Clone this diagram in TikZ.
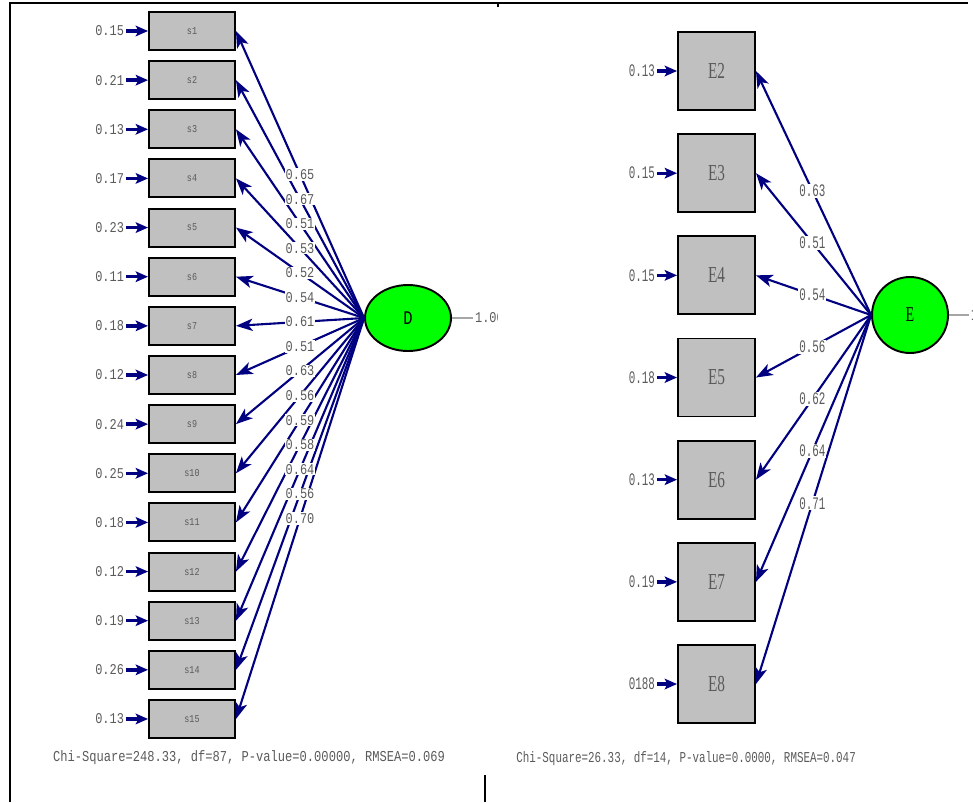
\documentclass[tikz,border=0pt]{standalone}
\usepackage{fontspec}
\usepackage{tikz}
\usetikzlibrary{arrows.meta,positioning,shapes.geometric,calc}
\usepackage{xcolor}
\setmainfont{Liberation Serif}
\newfontfamily\monoleft[FakeStretch=0.8]{Liberation Mono}
\newfontfamily\monoright[FakeStretch=0.62]{Liberation Mono}
\newfontfamily\monochi[FakeStretch=0.72]{Liberation Mono}
\newfontfamily\serifnarrow[FakeStretch=0.67]{Liberation Serif}
\definecolor{pathblue}{RGB}{0,0,128}
\definecolor{boxgray}{RGB}{192,192,192}
\definecolor{latgreen}{RGB}{0,255,0}
\definecolor{labgray}{RGB}{90,90,90}

\begin{document}
\begin{tikzpicture}[x=0.02cm, y=-0.02cm,
    obsS/.style={draw=black, line width=1.1pt, fill=boxgray, inner sep=0pt,
                 minimum width=1.72cm, minimum height=0.76cm,
                 font=\monoleft\fontsize{6}{7}\selectfont, text=labgray},
    obsE/.style={draw=black, line width=1.1pt, fill=boxgray, inner sep=0pt,
                 minimum width=1.54cm, minimum height=1.56cm,
                 font=\serifnarrow\fontsize{13}{14}\selectfont, text=labgray},
    latent/.style={draw=black, line width=1.1pt, fill=latgreen, inner sep=0pt},
    evarL/.style={font=\monoleft\fontsize{8.5}{9}\selectfont, text=labgray, inner sep=1pt},
    evarR/.style={font=\monoright\fontsize{10}{11}\selectfont, text=labgray, inner sep=1pt},
    plabL/.style={evarL, fill=white, inner sep=0.6pt},
    plabR/.style={evarR, fill=white, inner sep=0.6pt},
    load/.style={-{Stealth[length=9.5pt,width=7pt,inset=2.5pt]}, line width=1.2pt, pathblue},
    earr/.style={-{Stealth[length=7pt,width=6pt,inset=1.5pt]}, line width=1.9pt, pathblue},
    resline/.style={line width=1.1pt, gray!70},
    chi/.style={text=labgray, inner sep=0pt}
  ]
  \useasboundingbox (0,0) rectangle (973,802);
  % Frame lines
  \draw[line width=1.1pt] (10,802) -- (10,3) -- (968,3);
  \draw[line width=0.8pt] (498,3) -- (498,7);
  \draw[line width=1.1pt] (485,775) -- (485,802);

  % Left model: factor D with s1..s15
  \node[latent, ellipse, minimum width=1.72cm, minimum height=1.32cm,
        font=\monoleft\fontsize{11}{12}\selectfont] (D) at (408,318) {D};
  \foreach \i/\ev/\ld in {1/0.15/0.65, 2/0.21/0.67, 3/0.13/0.51, 4/0.17/0.53,
      5/0.23/0.52, 6/0.11/0.54, 7/0.18/0.61, 8/0.12/0.51, 9/0.24/0.63,
      10/0.25/0.56, 11/0.18/0.59, 12/0.12/0.58, 13/0.19/0.64, 14/0.26/0.56,
      15/0.13/0.70} {
    \pgfmathsetmacro{\yy}{31+(\i-1)*49.14}
    \node[obsS] (s\i) at (192,\yy) {s\i};
    \node[evarL, left=0.44cm of s\i] (es\i) {\ev};
    \draw[earr] (es\i.east) -- (s\i.west);
    \draw[load] (D.west) -- coordinate[pos=0.5] (ls\i) (s\i.east);
  }
  \foreach \i/\ev/\ld in {1/0.15/0.65, 2/0.21/0.67, 3/0.13/0.51, 4/0.17/0.53,
      5/0.23/0.52, 6/0.11/0.54, 7/0.18/0.61, 8/0.12/0.51, 9/0.24/0.63,
      10/0.25/0.56, 11/0.18/0.59, 12/0.12/0.58, 13/0.19/0.64, 14/0.26/0.56,
      15/0.13/0.70}
    \node[plabL] at (ls\i) {\ld};
  \begin{scope}
    \clip (440,280) rectangle (497,360);
    \node[evarL, anchor=west] (Dres) at (473,318) {1.00};
    \draw[resline] (D.east) -- (Dres.west);
  \end{scope}
  \node[chi, font=\monoleft\fontsize{8.6}{10}\selectfont] (fitD) at (249,758)
    {Chi-Square=248.33, df=87, P-value=0.00000, RMSEA=0.069};

  % Right model: factor E with E2..E8
  \node[latent, circle, minimum size=1.52cm,
        font=\serifnarrow\fontsize{12}{13}\selectfont] (E) at (910,315) {E};
  \foreach \k/\ev/\ld in {2/0.13/0.63, 3/0.15/0.51, 4/0.15/0.54, 5/0.18/0.56,
      6/0.13/0.62, 7/0.19/0.64, 8/0188/0.71} {
    \pgfmathsetmacro{\yy}{71+(\k-2)*102.17}
    \node[obsE] (E\k) at (716.5,\yy) {E\k};
    \node[evarR, left=0.4cm of E\k] (eE\k) {\ev};
    \draw[earr] (eE\k.east) -- (E\k.west);
    \draw[load] (E.west) -- coordinate[pos=0.51] (lE\k) (E\k.east);
  }
  \foreach \k/\ld in {2/0.63, 3/0.51, 4/0.54, 5/0.56, 6/0.62, 7/0.64, 8/0.71}
    \node[plabR] at (lE\k) {\ld};
  \node[evarR, anchor=west] (Eres) at (969,315) {1.00};
  \draw[resline] (E.east) -- (Eres.west);
  \node[chi, anchor=west, font=\monochi\fontsize{8.6}{10}\selectfont] (fitE)
    at (516,759) {Chi-Square=26.33, df=14, P-value=0.0000, RMSEA=0.047};
\end{tikzpicture}
\end{document}
